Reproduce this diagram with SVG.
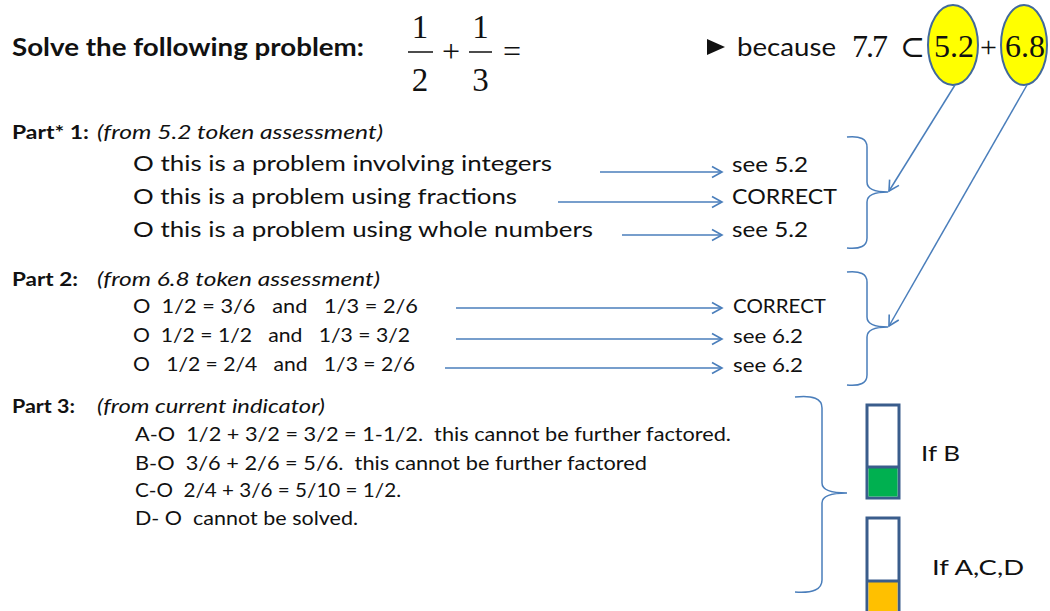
<svg xmlns="http://www.w3.org/2000/svg" width="1050" height="611" viewBox="0 0 1050 611">
<defs>
<marker id="arr" markerUnits="userSpaceOnUse" markerWidth="14" markerHeight="14" viewBox="0 0 14 14" refX="12" refY="7" orient="auto">
<path d="M2,1.5 L12,7 L2,12.5" fill="none" stroke="#4a7ebb" stroke-width="1.6"/>
</marker>
</defs>
<style>
text{fill:#111;font-family:Lato,"Open Sans","Liberation Sans",sans-serif}
.b{font-weight:bold}
.i{font-style:italic}
.m{font-family:"Liberation Serif","DejaVu Serif",serif}
.c{stroke:#4a7ebb;stroke-width:1.5;fill:none}
.br{stroke:#4a7ebb;stroke-width:1.5;fill:none}
.r1{font-size:22px}
.r2{font-size:20px}
.r3{font-size:20px}
.h{font-size:19px}
.box{fill:#fff;stroke:#3a5d8c;stroke-width:3}
</style>

<g id="title">
<text class="b" x="12" y="56" font-size="24" textLength="352" lengthAdjust="spacingAndGlyphs">Solve the following problem:</text>
<text class="m" x="420" y="38" font-size="33" text-anchor="middle">1</text>
<line x1="408" y1="52" x2="433" y2="52" stroke="#111" stroke-width="1.5"/>
<text class="m" x="420" y="91" font-size="33" text-anchor="middle">2</text>
<text class="m" x="451" y="62" font-size="32" text-anchor="middle">+</text>
<text class="m" x="480.5" y="38" font-size="33" text-anchor="middle">1</text>
<line x1="469" y1="52" x2="492" y2="52" stroke="#111" stroke-width="1.5"/>
<text class="m" x="480.5" y="91" font-size="33" text-anchor="middle">3</text>
<text class="m" x="512" y="62" font-size="32" text-anchor="middle">=</text>
</g>

<g id="because">
<polygon points="707,39 725,47 707,55" fill="#111"/>
<text x="737" y="56" font-size="25" textLength="99" lengthAdjust="spacingAndGlyphs">because</text>
<text class="m" x="852" y="57" font-size="32" textLength="36">7.7</text>
<text class="m" x="900" y="57" font-size="30">⊂</text>
</g>

<g id="token52">
<ellipse cx="953" cy="45" rx="25" ry="40" fill="#ffff00" stroke="#41699b" stroke-width="2"/>
<text class="m" x="954" y="57" font-size="32" text-anchor="middle">5.2</text>
</g>
<g id="plus">
<text class="m" x="988.5" y="57" font-size="30" text-anchor="middle">+</text>
</g>
<g id="token68">
<ellipse cx="1024" cy="45" rx="23" ry="40" fill="#ffff00" stroke="#41699b" stroke-width="2"/>
<text class="m" x="1025" y="57" font-size="32" text-anchor="middle">6.8</text>
</g>

<g id="part1">
<text class="b h" x="12" y="139" textLength="77" lengthAdjust="spacingAndGlyphs">Part* 1:</text>
<text class="i h" x="97" y="139" textLength="286" lengthAdjust="spacingAndGlyphs">(from 5.2 token assessment)</text>
<text class="r1" x="133" y="171" textLength="419" lengthAdjust="spacingAndGlyphs">O  this is a problem involving integers</text>
<text class="r1" x="133" y="204" textLength="384" lengthAdjust="spacingAndGlyphs">O  this is a problem using fractions</text>
<text class="r1" x="133" y="237" textLength="460" lengthAdjust="spacingAndGlyphs">O  this is a problem using whole numbers</text>
</g>
<g id="part1-results">
<text class="r1" x="732" y="172" textLength="76" lengthAdjust="spacingAndGlyphs">see 5.2</text>
<text class="r1" x="732" y="204" textLength="105" lengthAdjust="spacingAndGlyphs">CORRECT</text>
<text class="r1" x="732" y="237" textLength="76" lengthAdjust="spacingAndGlyphs">see 5.2</text>
</g>

<g id="part2">
<text class="b h" x="12" y="286" textLength="66" lengthAdjust="spacingAndGlyphs">Part 2:</text>
<text class="i h" x="97" y="286" textLength="283" lengthAdjust="spacingAndGlyphs">(from 6.8 token assessment)</text>
<text class="r2" x="133" y="313" textLength="285" lengthAdjust="spacingAndGlyphs" xml:space="preserve">O  1/2 = 3/6   and   1/3 = 2/6</text>
<text class="r2" x="133" y="342" textLength="277" lengthAdjust="spacingAndGlyphs" xml:space="preserve">O  1/2 = 1/2   and   1/3 = 3/2</text>
<text class="r2" x="133" y="371" textLength="282" lengthAdjust="spacingAndGlyphs" xml:space="preserve">O   1/2 = 2/4   and   1/3 = 2/6</text>
</g>
<g id="part2-results">
<text class="r2" x="733" y="313" textLength="93" lengthAdjust="spacingAndGlyphs">CORRECT</text>
<text class="r2" x="733" y="343" textLength="70" lengthAdjust="spacingAndGlyphs">see 6.2</text>
<text class="r2" x="733" y="372" textLength="70" lengthAdjust="spacingAndGlyphs">see 6.2</text>
</g>

<g id="part3">
<text class="b h" x="12" y="413" textLength="63" lengthAdjust="spacingAndGlyphs">Part 3:</text>
<text class="i h" x="97" y="413" textLength="228" lengthAdjust="spacingAndGlyphs">(from current indicator)</text>
<text class="r3" x="135" y="441" textLength="596" lengthAdjust="spacingAndGlyphs" xml:space="preserve">A-O  1/2 + 3/2 = 3/2 = 1-1/2.  this cannot be further factored.</text>
<text class="r3" x="135" y="470" textLength="512" lengthAdjust="spacingAndGlyphs" xml:space="preserve">B-O  3/6 + 2/6 = 5/6.  this cannot be further factored</text>
<text class="r3" x="135" y="497" textLength="266" lengthAdjust="spacingAndGlyphs" xml:space="preserve">C-O  2/4 + 3/6 = 5/10 = 1/2.</text>
<text class="r3" x="135" y="525" textLength="223" lengthAdjust="spacingAndGlyphs" xml:space="preserve">D- O  cannot be solved.</text>
</g>

<g id="meterB">
<rect class="box" x="867" y="405" width="32" height="93"/>
<rect x="868.5" y="467" width="29" height="29.5" fill="#00b050"/>
<line x1="867" y1="467" x2="899" y2="467" stroke="#3a5d8c" stroke-width="3"/>
<text x="921" y="461" font-size="22" textLength="39" lengthAdjust="spacingAndGlyphs">If B</text>
</g>
<g id="meterACD">
<rect class="box" x="867" y="518" width="32" height="100"/>
<rect x="868.5" y="581" width="29" height="36" fill="#ffc000"/>
<line x1="867" y1="581" x2="899" y2="581" stroke="#3a5d8c" stroke-width="3"/>
<text x="932" y="575" font-size="22" textLength="92" lengthAdjust="spacingAndGlyphs">If A,C,D</text>
</g>

<g id="connectors">
<line class="c" x1="600" y1="172" x2="722" y2="172" marker-end="url(#arr)"/>
<line class="c" x1="558" y1="202" x2="722" y2="202" marker-end="url(#arr)"/>
<line class="c" x1="622" y1="235" x2="722" y2="235" marker-end="url(#arr)"/>
<line class="c" x1="456" y1="308" x2="722" y2="308" marker-end="url(#arr)"/>
<line class="c" x1="456" y1="339" x2="722" y2="339" marker-end="url(#arr)"/>
<line class="c" x1="445" y1="368" x2="722" y2="368" marker-end="url(#arr)"/>
<line class="c" x1="955" y1="85" x2="889" y2="191" marker-end="url(#arr)"/>
<line class="c" x1="1027" y1="85" x2="889" y2="326" marker-end="url(#arr)"/>
<path class="br" d="M847,137 Q867,135 867,147 L867,182 Q867,192 888,192 Q867,192 867,202 L867,238 Q867,250 847,248"/>
<path class="br" d="M847,272 Q867,270 867,282 L867,317 Q867,327 888,327 Q867,327 867,337 L867,375 Q867,387 847,385"/>
<path class="br" d="M795,397 Q822,394 822,408 L822,483 Q822,493 847,493 Q822,493 822,503 L822,580 Q822,594 795,592"/>
</g>
</svg>
